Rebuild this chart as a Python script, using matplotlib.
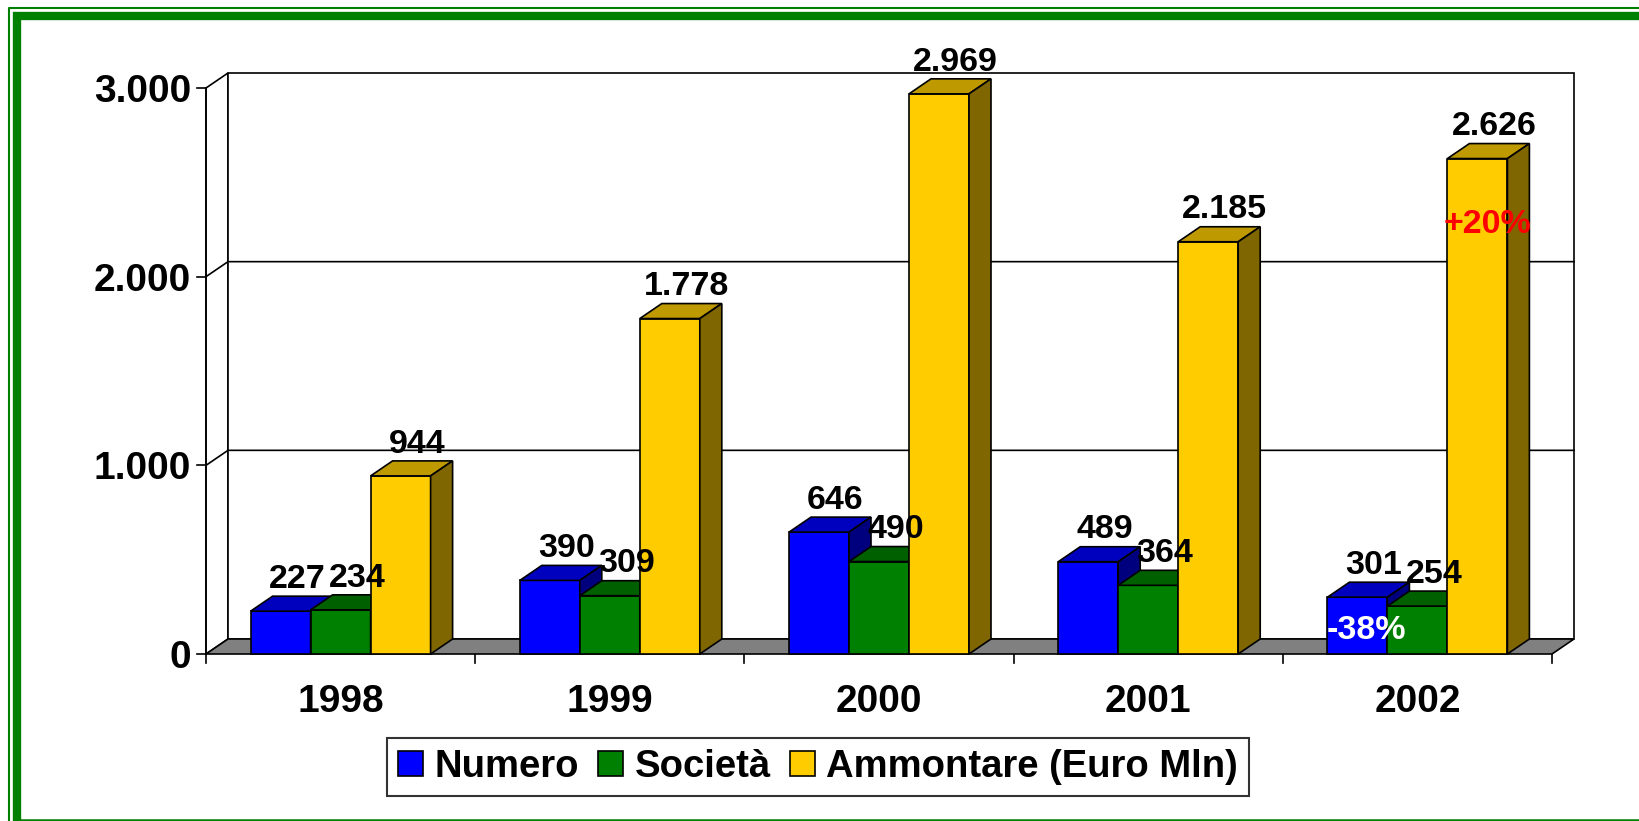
import numpy as np
import matplotlib
matplotlib.use("Agg")
import matplotlib.pyplot as plt
from matplotlib.patches import Polygon, Rectangle, Patch
from matplotlib.lines import Line2D

plt.rcParams['font.family'] = ['Liberation Sans', 'DejaVu Sans']
plt.rcParams['font.weight'] = 'bold'

anni = ['1998', '1999', '2000', '2001', '2002']
numero = [227, 390, 646, 489, 301]
societa = [234, 309, 490, 364, 254]
ammontare = [944, 1778, 2969, 2185, 2626]
serie_nomi = ['Numero', 'Società', 'Ammontare (Euro Mln)']
y_ticks = [0, 1000, 2000, 3000]
y_labels = ['0', '1.000', '2.000', '3.000']

# colori: fronte, sopra, lato
colori = [('#0000FF', '#0000BF', '#00007F'),
          ('#008000', '#006000', '#004000'),
          ('#FFCC00', '#BF9900', '#806600')]

W, H = 1639, 821
fig = plt.figure(figsize=(W / 100, H / 100), dpi=100)

# area del grafico in pixel (fronte)
x0, x1 = 206, 1552
y0, y1 = 654, 88
ax = fig.add_axes([x0 / W, 1 - y0 / H, (x1 - x0) / W, (y0 - y1) / H])
ax.set_xlim(-0.5, len(anni) - 0.5)
ax.set_ylim(0, 3000)
ax.axis('off')

px_x = (x1 - x0) / len(anni)
px_y = (y0 - y1) / 3000
dx = 22 / px_x      # profondita 3D in unita dati
dy = 15 / px_y

lw = 1.2
xl, xr = -0.5, len(anni) - 0.5

# parete sinistra, parete di fondo, pavimento
ax.add_patch(Polygon([(xl, 0), (xl, 3000), (xl + dx, 3000 + dy), (xl + dx, dy)],
                     closed=True, fc='white', ec='black', lw=lw, zorder=1, clip_on=False))
ax.add_patch(Rectangle((xl + dx, dy), xr - xl, 3000, fc='white', ec='black',
                       lw=lw, zorder=1, clip_on=False))
for t in y_ticks[1:-1]:
    ax.plot([xl, xl + dx, xr + dx], [t, t + dy, t + dy], color='black', lw=lw,
            zorder=2, clip_on=False)
ax.add_patch(Polygon([(xl, 0), (xr, 0), (xr + dx, dy), (xl + dx, dy)], closed=True,
                     fc='#808080', ec='black', lw=lw, zorder=3, clip_on=False))

# asse y e tacche
ax.plot([xl, xl], [0, 3000], color='black', lw=lw, zorder=3, clip_on=False)
tick_dx = 9 / px_x
for t, lab in zip(y_ticks, y_labels):
    ax.plot([xl - tick_dx, xl], [t, t], color='black', lw=lw, clip_on=False)
    ax.text(xl - tick_dx - 6 / px_x, t - 4 / px_y, lab, ha='right', va='center',
            fontsize=28, fontweight='bold')

# tacche asse x e anni
for i in range(len(anni) + 1):
    ax.plot([xl + i, xl + i], [0, -9 / px_y], color='black', lw=lw, clip_on=False)
for i, a in enumerate(anni):
    ax.text(i, -48 / px_y, a, ha='center', va='center', fontsize=28, fontweight='bold')

# barre 3D
bw = 60 / px_x
serie = [numero, societa, ammontare]
z = 10
for i in range(len(anni)):
    for s, valori in enumerate(serie):
        v = valori[i]
        xc = i + (s - 1) * bw
        fronte, sopra, lato = colori[s]
        ax.bar([xc], [v], width=bw, color=fronte, edgecolor='black', linewidth=lw,
               zorder=z, clip_on=False)
        a, b = xc - bw / 2, xc + bw / 2
        ax.add_patch(Polygon([(a, v), (b, v), (b + dx, v + dy), (a + dx, v + dy)],
                             closed=True, fc=sopra, ec='black', lw=lw, zorder=z,
                             clip_on=False))
        ax.add_patch(Polygon([(b, 0), (b, v), (b + dx, v + dy), (b + dx, dy)],
                             closed=True, fc=lato, ec='black', lw=lw, zorder=z,
                             clip_on=False))
        etichetta = f"{v:,}".replace(',', '.')
        ax.annotate(etichetta, (xc + dx / 2, v + dy), xytext=(4, 6),
                    textcoords='offset points', ha='center', va='baseline',
                    fontsize=24.5, fontweight='bold', zorder=100,
                    annotation_clip=False)
        z += 1

# variazioni 2002
ax.text(3.81, 125, '-38%', color='white', ha='center', va='center',
        fontsize=24.5, fontweight='bold', zorder=101)
ax.text(4.262, 2275, '+20%', color='red', ha='center', va='center',
        fontsize=24.5, fontweight='bold', zorder=101)

# legenda
handles = [Patch(facecolor=c[0], edgecolor='black', linewidth=1.2) for c in colori]
leg = fig.legend(handles, serie_nomi, loc='center', ncol=3,
                 bbox_to_anchor=(818 / W, 1 - 767 / H), fontsize=27.5,
                 frameon=True, fancybox=False, edgecolor='black',
                 handlelength=0.65, handleheight=0.65, handletextpad=0.3,
                 columnspacing=0.5, borderpad=0.3, borderaxespad=0)
leg.get_frame().set_linewidth(1.5)
for t in leg.get_texts():
    t.set_fontweight('bold')

# cornice verde
def fx(p):
    return p / W

def fy(p):
    return 1 - p / H

verde = '#008000'
fig.add_artist(Line2D([fx(8.5), fx(8.5), 1], [0, fy(8), fy(8)], color=verde, lw=1.5))
fig.add_artist(Line2D([fx(17), fx(17), 1], [0, fy(16.5), fy(16.5)], color=verde, lw=6,
                      solid_joinstyle='miter'))
fig.add_artist(Line2D([fx(17), 1], [fy(820), fy(820)], color=verde, lw=1.8))

fig.savefig('out.png', dpi=100)
